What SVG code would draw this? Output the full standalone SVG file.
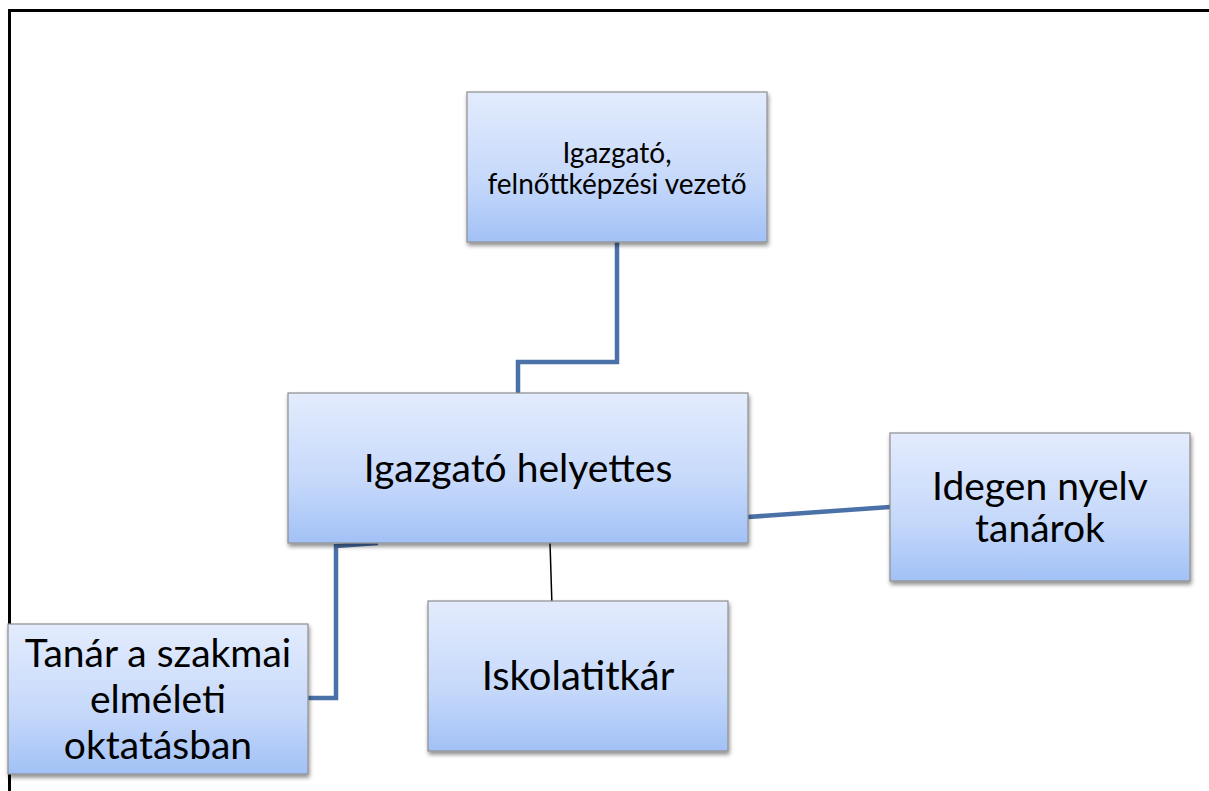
<svg xmlns="http://www.w3.org/2000/svg" width="1209" height="791" viewBox="0 0 1209 791">
<defs>
<linearGradient id="g" x1="0" y1="0" x2="0" y2="1">
<stop offset="0" stop-color="#e3ecfd"/>
<stop offset="0.6" stop-color="#c5d8fa"/>
<stop offset="1" stop-color="#a2c1f6"/>
</linearGradient>
<filter id="sh" x="-10%" y="-10%" width="125%" height="130%">
<feGaussianBlur in="SourceAlpha" stdDeviation="2"/>
<feOffset dx="1" dy="3" result="b"/>
<feComponentTransfer><feFuncA type="linear" slope="0.45"/></feComponentTransfer>
<feMerge><feMergeNode/><feMergeNode in="SourceGraphic"/></feMerge>
</filter>
</defs>
<style>
.box{fill:url(#g);stroke:#8e8e8e;stroke-width:1.2;filter:url(#sh)}
.t{font-family:Lato,"Liberation Sans",sans-serif;fill:#000;text-anchor:middle}
.c{fill:none;stroke:#4a71a8;stroke-width:4.5}
.k{fill:none;stroke:#000;stroke-width:1.5}
</style>
<rect width="1209" height="791" fill="#fff"/>
<path d="M9.5,791 V10.5 H1209" fill="none" stroke="#000" stroke-width="3"/>
<g id="connectors">
<path class="c" d="M617,242 V362 H518 V393"/>
<path class="c" d="M748,517 L890,507"/>
<path class="c" d="M378,543 L336,546 V698 H308"/>
<path class="k" d="M550,543 L552,606"/>
</g>
<g id="n1"><rect class="box" x="467" y="92" width="300" height="150"/>
<text class="t" x="617" y="163" font-size="28">Igazgató,</text>
<text class="t" x="617" y="194" font-size="28">felnőttképzési vezető</text></g>
<g id="n2"><rect class="box" x="288" y="393" width="460" height="150"/>
<text class="t" x="518" y="482" font-size="39">Igazgató helyettes</text></g>
<g id="n3"><rect class="box" x="890" y="433" width="300" height="148"/>
<text class="t" x="1040" y="500" font-size="39">Idegen nyelv</text>
<text class="t" x="1040" y="542" font-size="39">tanárok</text></g>
<g id="n4"><rect class="box" x="8" y="624" width="300" height="150"/>
<text class="t" x="158" y="667" font-size="39">Tanár a szakmai</text>
<text class="t" x="158" y="713" font-size="39">elméleti</text>
<text class="t" x="158" y="759" font-size="39">oktatásban</text></g>
<g id="n5"><rect class="box" x="428" y="601" width="300" height="150"/>
<text class="t" x="578" y="690" font-size="40">Iskolatitkár</text></g>
</svg>
